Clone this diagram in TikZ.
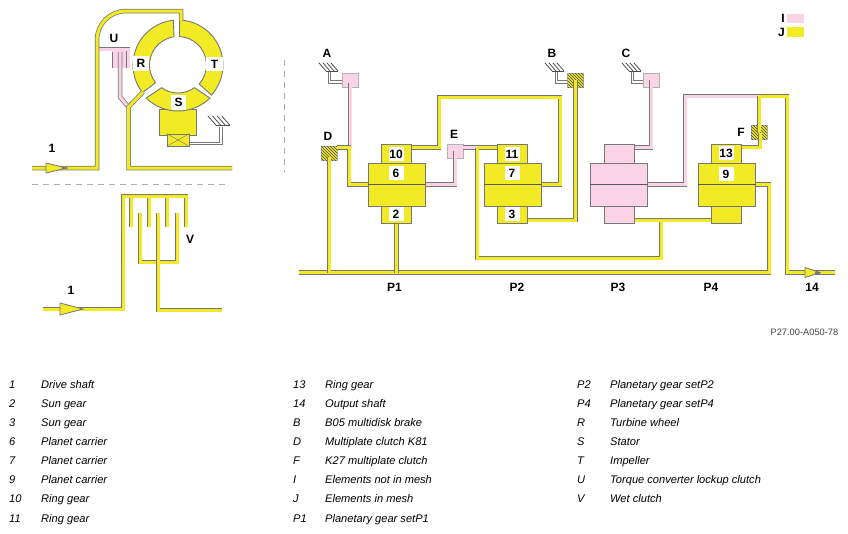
\documentclass[tikz,border=0pt]{standalone}
\usepackage{fontspec}
\setmainfont{Liberation Sans}
\usetikzlibrary{patterns}
\definecolor{meshyellow}{HTML}{F2EA24}
\definecolor{freepink}{HTML}{FBD3E6}
\definecolor{edgegray}{HTML}{777777}
\definecolor{dashgray}{HTML}{ABABAB}
\tikzset{
  shaft/.style={draw=edgegray, line width=0.75pt, double=meshyellow, double distance=3pt},
  pinkshaft/.style={shaft, double=freepink},
  legline/.style={draw=edgegray, line width=0.8pt, double=white, double distance=1.8pt},
  gearbox/.style={draw=edgegray, line width=1pt, fill=meshyellow, minimum width=30pt, minimum height=19pt, inner sep=0pt},
  carrier/.style={gearbox, minimum width=57pt, minimum height=43pt},
  brakebox/.style={draw=black!30, line width=0.5pt, fill=freepink, minimum width=16pt, minimum height=14pt, inner sep=0pt},
  hatchbox/.style={brakebox, fill=meshyellow, postaction={pattern=north west lines, pattern color=black!75}},
  whitelabel/.style={fill=white, inner sep=0pt, minimum width=15pt, minimum height=14pt, font=\fontsize{12}{12}\selectfont\bfseries},
  tag/.style={inner sep=0pt, font=\fontsize{12}{12}\selectfont\bfseries},
  legendtext/.style={anchor=base west, inner sep=0pt, font=\fontsize{11.1}{12}\selectfont\itshape},
  ringpart/.style={draw=edgegray, line width=0.9pt, fill=meshyellow},
  inarrow/.style={draw=edgegray, line width=0.8pt, fill=meshyellow},
  ground/.pic={
    \draw[line width=0.8pt, black!70] (7,8) -- (19,8);
    \foreach \i in {0,4,8,12} \draw[line width=0.8pt, black!70] (\i,0) -- (\i+7,8);
  }
}
\begin{document}
\begin{tikzpicture}[x=1pt,y=-1pt]
    \useasboundingbox (0,0) rectangle (848,533);
    % separators
    \draw[dash pattern=on 6pt off 5pt, color=dashgray, line width=1pt] (32,184) -- (228,184);
    \draw[dash pattern=on 6pt off 5pt, color=dashgray, line width=1pt] (284,60) -- (284,172);
    % converter
    \begin{scope}[shift={(178,65)}]
        \draw[ringpart] (-88:45) arc[start angle=-88, end angle=42, radius=45] -- (42:28.5) arc[start angle=42, end angle=-87, radius=28.5] -- cycle;
        \draw[ringpart] (142:45) arc[start angle=142, end angle=264, radius=45] -- (262:28.5) arc[start angle=262, end angle=142, radius=28.5] -- cycle;
    \end{scope}
    \node[gearbox, minimum width=37pt, minimum height=26pt] (stem) at (177.5,122) {};
    \begin{scope}[shift={(178,65)}]
        \draw[ringpart] (46:46) arc[start angle=46, end angle=134, radius=46] -- (126:28) arc[start angle=126, end angle=54, radius=28] -- cycle;
    \end{scope}
    \node[gearbox, minimum width=22pt, minimum height=12pt] (lockbox) at (178,140) {};
    \draw[edgegray] (lockbox.north west) -- (lockbox.south east) (lockbox.north east) -- (lockbox.south west);
    \node[whitelabel, minimum width=16pt, minimum height=15pt] (labR) at (141,63) {R};
    \node[whitelabel, minimum width=17pt, minimum height=14pt] (labT) at (214.5,64) {T};
    \node[whitelabel, minimum height=15pt] (labS) at (178.5,102.5) {S};
    \coordinate (gleft) at (221,127);
    \draw[legline] (lockbox.east |- 0,143.5) -| (gleft);
    \pic[scale=1.15] at (208,116) {ground};
    % input and clutch U
    \coordinate (uturn) at (128,49);
    \coordinate (ujoin) at (128.5,107);
    \coordinate (rend) at (143,92);
    \node[brakebox, draw=none, minimum width=16pt, minimum height=17pt] (ubox) at (120,59.5) {};
    \draw[pinkshaft] (97,49) -- (uturn) -- (uturn |- ubox.south);
    \draw[pinkshaft] (114,52) -- (114,68);
    \draw[pinkshaft] (120,52) -- (120,97) -- (ujoin);
    \draw[shaft] (32,168) -- (97,168) -- (97,40) arc[start angle=180, end angle=270, radius=29] -- (181,11) -- (181,21);
    \draw[shaft] (rend) -- (ujoin) -- (128.5,168) -- (232,168);
    \draw[inarrow] (46,163) -- (67,168) -- (46,173) -- cycle;
    \fill[edgegray] (62,167) rectangle (67,169);
    \node[tag] (labU) at (114,38) {U};
    \node[tag] (labIn) at (52,148) {1};
    % wet clutch
    \coordinate (vtop) at (123,196);
    \foreach \fx in {131,149,167} \draw[shaft] (\fx,196) -- (\fx,227);
    \draw[shaft] (43,309) -- (123,309) -- (vtop) -- (186,196) -- (186,227);
    \draw[shaft] (140,213) -- (140,262) -- (177,262) -- (177,213);
    \draw[shaft] (158,213) -- (158,310) -- (222,310);
    \draw[inarrow] (60,303) -- (83,309) -- (60,315) -- cycle;
    \node[tag] (labInB) at (71,290) {1};
    \node[tag] (labV) at (190,239) {V};
    % gear sets
    \foreach \s/\cx/\tone in {p1/396.5/meshyellow, p2/512.5/meshyellow, p3/619/freepink, p4/726.5/meshyellow} {
        \node[gearbox, fill=\tone] (\s top) at (\cx,153.5) {};
        \node[gearbox, fill=\tone, minimum height=17pt] (\s bot) at (\cx,214.5) {};
        \node[carrier, fill=\tone] (\s main) at (\cx,184.5) {};
        \draw[line width=1pt, color=black!65] (\s main.west) -- (\s main.east);
    }
    \foreach \n/\lx/\ly in {10/396/154, 6/396/173, 2/396/214, 11/512/154, 7/512/173, 3/512/214, 13/726/153, 9/726/174}
        \node[whitelabel] (lab\n) at (\lx,\ly) {\n};
    % brakes and clutches
    \node[brakebox] (brA) at (350,80) {};
    \node[hatchbox] (brB) at (575.5,80) {};
    \node[brakebox] (brC) at (651,80) {};
    \node[hatchbox] (brD) at (329,153.5) {};
    \node[brakebox] (brE) at (455,151) {};
    \node[hatchbox] (brF) at (759,132) {};
    \node[tag] at (327,53) {A};
    \node[tag] at (552,53) {B};
    \node[tag] at (626,53) {C};
    \node[tag] at (328,136) {D};
    \node[tag] at (454,134) {E};
    \node[tag] at (741,132) {F};
    % anchors to ground
    \draw[legline] (brA.west |- 0,82) -| (329.5,71);
    \pic at (319,63) {ground};
    \draw[legline] (brB.west |- 0,82) -| (556.5,71);
    \pic at (545,63) {ground};
    \draw[legline] (brC.west |- 0,82) -| (632.5,71);
    \pic at (622,63) {ground};
    % shafts
    \coordinate (jnD) at (349,147.5);
    \coordinate (jnE) at (477,147.5);
    \coordinate (jnF) at (759,96);
    \coordinate (jnP) at (661,220);
    \draw[shaft] (299,272.5) -- (769,272.5) -- (769,184.5) -- (p4main.east);
    \draw[shaft] (p1bot.south) -- (p1bot.south |- 0,272.5);
    \draw[shaft, shorten <=3pt] (brD.center) -- (brD |- 0,272.5);
    \draw[pinkshaft, shorten <=3pt] (brA.center) -- (brA |- jnD);
    \draw[shaft] (brD.east |- jnD) -- (jnD) |- (p1main.west);
    \draw[pinkshaft] (brE.center) |- (p1main.east);
    \draw[shaft] (p1top.east |- jnD) -- (439,147.5) -- (439,97) -- (560,97) |- (p2main.east);
    \draw[shaft] (p2bot.east |- 0,220) -- (575.5,220) -- (brB.center);
    \draw[shaft] (jnE) -- (p2top.west |- jnE);
    \draw[pinkshaft] (brE.east |- jnE) -- (jnE);
    \draw[shaft] (jnE) -- (477,258) -- (661,258) -- (jnP);
    \draw[shaft] (p3bot.east |- jnP) -- (p4bot.west |- jnP);
    \draw[pinkshaft] (brC.center) |- (p3top.east |- 0,147.5);
    \draw[pinkshaft] (p3main.east) -- (685,184.5) -- (685,96) -- (jnF);
    \draw[shaft] (jnF) -- (787,96) -- (787,272.5) -- (835,272.5);
    \draw[shaft] (jnF) -- (brF.center);
    \draw[shaft] (p4top.east |- 0,147) -- (760,147) -- (760,133);
    \draw[inarrow] (805,267.5) -- (820,272.5) -- (805,277.5) -- cycle;
    \fill[edgegray] (815,271.5) rectangle (820,273.5);
    \node[tag] at (394.5,287) {P1};
    \node[tag] at (517,287) {P2};
    \node[tag] at (618,287) {P3};
    \node[tag] at (711,287) {P4};
    \node[tag] at (812,287) {14};
    % colour key
    \node[tag, anchor=east] (keyI) at (785,18) {I};
    \node[tag, anchor=east] (keyJ) at (785,32) {J};
    \node[brakebox, draw=none, minimum width=17pt, minimum height=9pt] (swI) at (795.5,18) {};
    \node[brakebox, draw=none, fill=meshyellow, minimum width=17pt, minimum height=10pt] (swJ) at (795.5,32) {};
    \node[anchor=east, inner sep=0pt, font=\fontsize{9.3}{9}\selectfont, color=black!75] (figno) at (838.5,332) {P27.00-A050-78};
    % legend
    \foreach \k/\t [count=\r from 0] in {1/Drive shaft, 2/Sun gear, 3/Sun gear, 6/Planet carrier, 7/Planet carrier, 9/Planet carrier, 10/Ring gear, 11/Ring gear} {
        \node[legendtext] (la\r) at (9,388+19.15*\r) {\k};
        \node[legendtext] (lb\r) at (41,388+19.15*\r) {\t};
    }
    \foreach \k/\t [count=\r from 0] in {13/Ring gear, 14/Output shaft, B/B05 multidisk brake, D/Multiplate clutch K81, F/K27 multiplate clutch, I/Elements not in mesh, J/Elements in mesh, P1/Planetary gear setP1} {
        \node[legendtext] (lc\r) at (293,388+19.15*\r) {\k};
        \node[legendtext] (ld\r) at (325,388+19.15*\r) {\t};
    }
    \foreach \k/\t [count=\r from 0] in {P2/Planetary gear setP2, P4/Planetary gear setP4, R/Turbine wheel, S/Stator, T/Impeller, U/Torque converter lockup clutch, V/Wet clutch} {
        \node[legendtext] (le\r) at (577,388+19.15*\r) {\k};
        \node[legendtext] (lf\r) at (610,388+19.15*\r) {\t};
    }
\end{tikzpicture}
\end{document}
